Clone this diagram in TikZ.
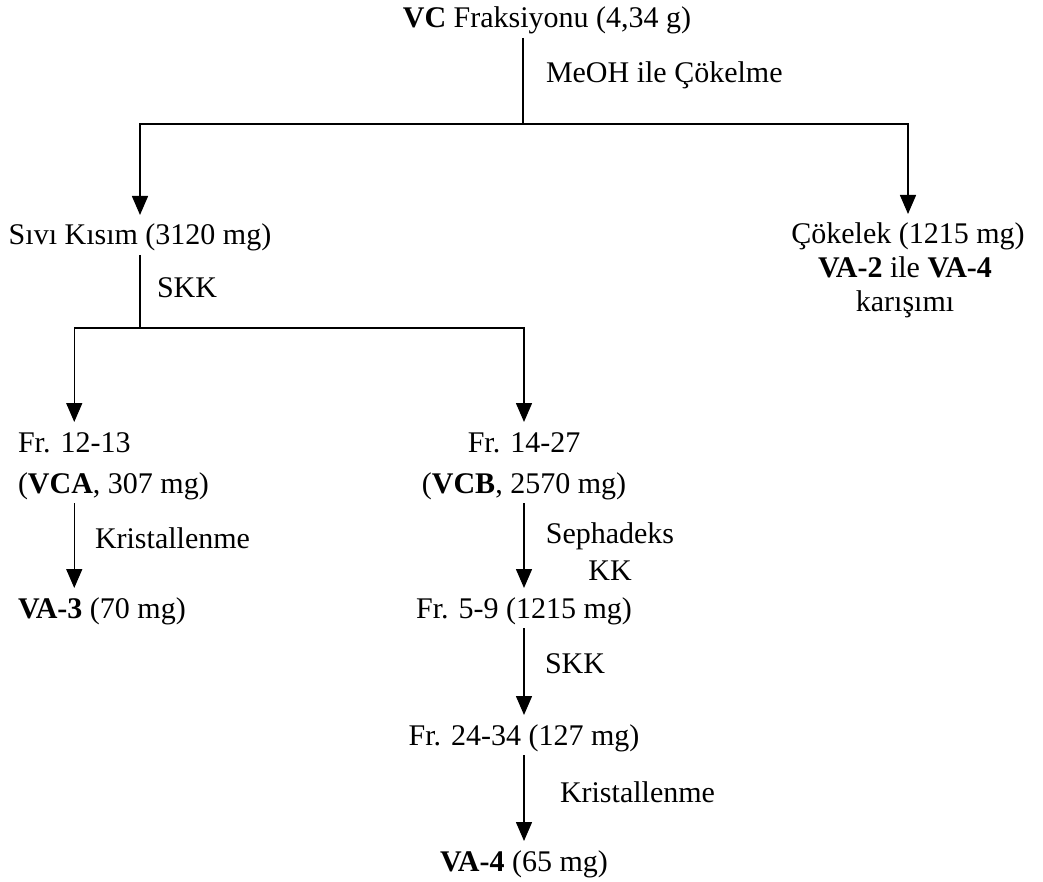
\documentclass[tikz,border=0pt]{standalone}
\usepackage{fontspec}
\setmainfont{Liberation Serif}
\usetikzlibrary{arrows.meta}
\begin{document}
\begin{tikzpicture}[x=1pt,y=-1pt,
  txt/.style={inner sep=0pt, outer sep=0pt, text height=30pt, text depth=10pt, font=\fontsize{30}{36}\selectfont},
  lbl/.style={inner sep=0pt, outer sep=0pt, font=\fontsize{30}{36}\selectfont},
  ln/.style={line width=1.5pt},
  arr/.style={ln, -{Triangle[width=16pt,length=19pt]}}]
\useasboundingbox (0,0) rectangle (1043,882);

\node[txt, anchor=base] (title) at (547,28) {\textbf{VC} Fraksiyonu (4,34 g)};
\coordinate (j1) at (523,124);
\draw[ln] (title.south -| j1) -- (j1);
\node[lbl, anchor=base west] (meoh) at (546,83) {MeOH ile Çökelme};

\node[txt, anchor=base] (siv) at (140,245) {Sıvı Kısım (3120 mg)};
\node[txt, anchor=base] (cok1) at (908,244) {Çökelek (1215 mg)};
\node[lbl, anchor=base] (cok2) at (905,278) {\textbf{VA-2} ile \textbf{VA-4}};
\node[lbl, anchor=base] (cok3) at (905,312) {karışımı};
\draw[arr] (j1) -| (siv.north);
\draw[arr] (j1) -| (cok1.north);

\coordinate (j2) at (140,328);
\draw[ln] (siv.south) -- (j2);
\node[lbl, anchor=base west] (skk1) at (157,298) {SKK};

\node[txt, anchor=base west] (frA1) at (18,452) {Fr. 12-13};
\node[txt, anchor=base west] (frA2) at (18,493) {(\textbf{VCA}, 307 mg)};
\node[txt, anchor=base west] (va3) at (18,618) {\textbf{VA-3} (70 mg)};
\node[txt, anchor=base] (frB1) at (524,452) {Fr. 14-27};
\node[txt, anchor=base] (frB2) at (524,493) {(\textbf{VCB}, 2570 mg)};
\draw[arr] (j2) -| (frA1.north);
\draw[arr] (j2) -| (frB1.north);
\draw[arr] (frA2.south -| frA1.north) -- (va3.north -| frA1.north);
\node[lbl, anchor=base west] (kr1) at (95,548) {Kristallenme};

\node[lbl, anchor=base] (seph) at (610,543) {Sephadeks};
\node[lbl, anchor=base] (kk) at (610,580) {KK};
\node[txt, anchor=base] (frC) at (524,618) {Fr. 5-9 (1215 mg)};
\draw[arr] (frB2.south) -- (frC.north);

\node[lbl, anchor=base west] (skk2) at (545,673) {SKK};
\node[txt, anchor=base] (frD) at (524,745) {Fr. 24-34 (127 mg)};
\draw[arr] (frC.south) -- (frD.north);

\node[lbl, anchor=base west] (kr2) at (560,802) {Kristallenme};
\node[txt, anchor=base] (va4) at (524,871) {\textbf{VA-4} (65 mg)};
\draw[arr] (frD.south) -- (va4.north);
\end{tikzpicture}
\end{document}
